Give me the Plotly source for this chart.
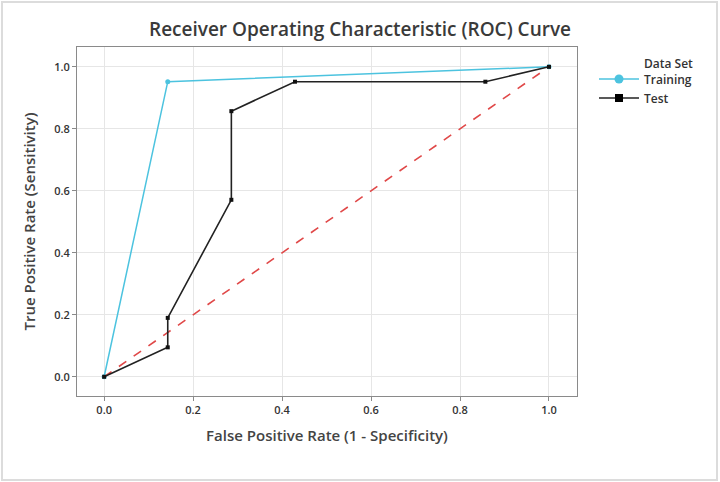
import plotly.graph_objects as go

train_fpr = [0.0, 0.143, 1.0]
train_tpr = [0.0, 0.952, 1.0]
test_fpr = [0.0, 0.143, 0.143, 0.286, 0.286, 0.429, 0.857, 1.0]
test_tpr = [0.0, 0.095, 0.190, 0.571, 0.857, 0.952, 0.952, 1.0]
ref_x = [0.0, 1.0]
ref_y = [0.0, 1.0]
tick_vals = [0.0, 0.2, 0.4, 0.6, 0.8, 1.0]
tick_text = ["0.0", "0.2", "0.4", "0.6", "0.8", "1.0"]

FONT = "Open Sans, Noto Sans, sans-serif"
TRAIN_C = "#4cc3df"
TEST_C = "#222222"

fig = go.Figure()
fig.add_trace(go.Scatter(x=ref_x, y=ref_y, mode="lines", showlegend=False,
                         line=dict(color="#e04848", width=1.6, dash="dash"), hoverinfo="skip"))
fig.add_trace(go.Scatter(x=train_fpr, y=train_tpr, mode="lines+markers", name="Training",
                         showlegend=False, legendgroup="train",
                         line=dict(color=TRAIN_C, width=1.5),
                         marker=dict(symbol="circle", size=5, color=TRAIN_C)))
fig.add_trace(go.Scatter(x=test_fpr, y=test_tpr, mode="lines+markers", name="Test",
                         showlegend=False, legendgroup="test",
                         line=dict(color=TEST_C, width=1.6),
                         marker=dict(symbol="square", size=4, color="#111111")))
# legend entries with larger symbols
fig.add_trace(go.Scatter(x=[None], y=[None], mode="lines+markers", name="Training",
                         legendgroup="train",
                         line=dict(color=TRAIN_C, width=1.5),
                         marker=dict(symbol="circle", size=9, color=TRAIN_C)))
fig.add_trace(go.Scatter(x=[None], y=[None], mode="lines+markers", name="Test",
                         legendgroup="test",
                         line=dict(color=TEST_C, width=1.6),
                         marker=dict(symbol="square", size=8, color="#000000")))

axis_common = dict(
    tickvals=tick_vals, ticktext=tick_text, showgrid=True, gridcolor="#e6e6e6", gridwidth=1,
    zeroline=False, showline=True, linecolor="#8a8a8a", linewidth=1, mirror=True,
    ticks="outside", ticklen=4, tickcolor="#8a8a8a",
    tickfont=dict(family=FONT, size=11, color="#333333", weight=600),
)

fig.update_layout(
    width=720, height=482,
    margin=dict(l=77, r=143, t=47, b=86, autoexpand=False),
    paper_bgcolor="white", plot_bgcolor="white",
    title=dict(text="Receiver Operating Characteristic (ROC) Curve", x=0.5, xanchor="center",
               y=0.94, yanchor="middle",
               font=dict(family=FONT, size=19, color="#3a3a3a", weight=600)),
    xaxis=dict(range=[-0.061, 1.063],
               title=dict(text="False Positive Rate (1 - Specificity)", standoff=14,
                          font=dict(family=FONT, size=15, color="#444444", weight=600)),
               **axis_common),
    yaxis=dict(range=[-0.062, 1.064],
               title=dict(text="True Positive Rate (Sensitivity)", standoff=14,
                          font=dict(family=FONT, size=15, color="#444444", weight=600)),
               **axis_common),
    legend=dict(x=(594 - 77) / 500, y=0.95, xanchor="left", yanchor="top",
                font=dict(family=FONT, size=12, color="#333333", weight=600),
                bgcolor="rgba(0,0,0,0)", tracegroupgap=0, itemwidth=40,
                itemclick=False, itemdoubleclick=False),
    annotations=[dict(text="Data Set", xref="paper", yref="paper",
                      x=(642 - 77) / 500, y=(396 - 63) / 349, xanchor="left", yanchor="middle",
                      showarrow=False,
                      font=dict(family=FONT, size=12, color="#333333", weight=600))],
    shapes=[dict(type="rect", xref="paper", yref="paper",
                 x0=(2 - 77) / 500, x1=(717 - 77) / 500,
                 y0=(396 - 480) / 349, y1=(396 - 2) / 349,
                 line=dict(color="#dcdcdc", width=2), layer="below")],
)

fig.write_html("out.html")
